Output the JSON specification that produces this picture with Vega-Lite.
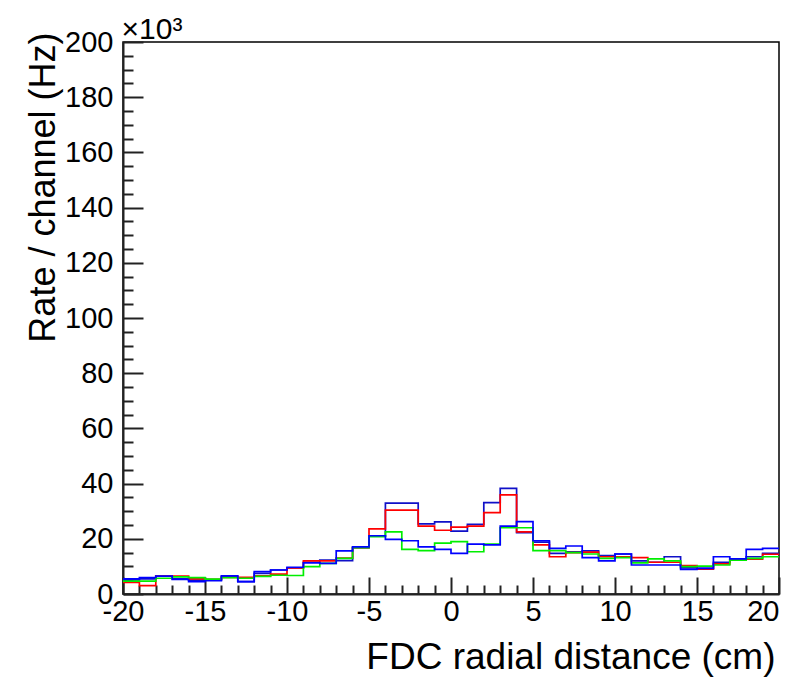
{
  "$schema": "https://vega.github.io/schema/vega-lite/v6.json",
  "width": 656,
  "height": 552,
  "autosize": {"type": "none"},
  "padding": {"left": 123, "top": 42, "right": 16, "bottom": 84},
  "background": "white",
  "config": {"view": {"stroke": "black", "strokeWidth": 1.5}, "font": "Liberation Sans"},
  "data": {"values": [
    {"x": -20, "D": 5.1, "R": 4.2, "G": 4.7, "B": 5.5},
    {"x": -19, "D": 5.5, "R": 3.0, "G": 4.7, "B": 5.9},
    {"x": -18, "D": 6.5, "R": 6.5, "G": 5.7, "B": 6.5},
    {"x": -17, "D": 5.5, "R": 6.5, "G": 6.2, "B": 5.3},
    {"x": -16, "D": 5.0, "R": 5.5, "G": 5.9, "B": 4.5},
    {"x": -15, "D": 5.1, "R": 5.3, "G": 5.4, "B": 4.8},
    {"x": -14, "D": 6.3, "R": 6.0, "G": 5.9, "B": 6.6},
    {"x": -13, "D": 4.5, "R": 6.0, "G": 5.7, "B": 4.5},
    {"x": -12, "D": 7.5, "R": 6.6, "G": 6.4, "B": 8.1},
    {"x": -11, "D": 8.7, "R": 7.2, "G": 6.8, "B": 8.7},
    {"x": -10, "D": 9.5, "R": 9.5, "G": 6.7, "B": 9.7},
    {"x": -9, "D": 11.5, "R": 12.0, "G": 9.9, "B": 11.3},
    {"x": -8, "D": 12.3, "R": 12.0, "G": 11.1, "B": 11.1},
    {"x": -7, "D": 12.1, "R": 13.0, "G": 12.9, "B": 15.6},
    {"x": -6, "D": 16.8, "R": 16.8, "G": 16.8, "B": 17.1},
    {"x": -5, "D": 21.0, "R": 23.6, "G": 20.8, "B": 21.1},
    {"x": -4, "D": 32.9, "R": 30.4, "G": 22.5, "B": 19.8},
    {"x": -3, "D": 32.9, "R": 30.4, "G": 16.2, "B": 19.3},
    {"x": -2, "D": 25.4, "R": 24.6, "G": 15.7, "B": 17.1},
    {"x": -1, "D": 26.1, "R": 23.1, "G": 18.4, "B": 16.2},
    {"x": 0, "D": 22.8, "R": 24.2, "G": 19.0, "B": 14.7},
    {"x": 1, "D": 25.2, "R": 24.6, "G": 15.3, "B": 18.1},
    {"x": 2, "D": 33.1, "R": 29.5, "G": 18.1, "B": 17.8},
    {"x": 3, "D": 38.3, "R": 35.9, "G": 24.0, "B": 24.6},
    {"x": 4, "D": 22.2, "R": 22.5, "G": 24.0, "B": 26.2},
    {"x": 5, "D": 18.8, "R": 17.8, "G": 15.7, "B": 19.3},
    {"x": 6, "D": 14.7, "R": 13.5, "G": 15.7, "B": 16.5},
    {"x": 7, "D": 15.3, "R": 15.0, "G": 15.0, "B": 17.4},
    {"x": 8, "D": 15.6, "R": 15.2, "G": 14.5, "B": 13.2},
    {"x": 9, "D": 13.9, "R": 13.5, "G": 12.9, "B": 12.0},
    {"x": 10, "D": 14.5, "R": 13.5, "G": 13.2, "B": 14.5},
    {"x": 11, "D": 12.0, "R": 13.2, "G": 11.3, "B": 10.5},
    {"x": 12, "D": 11.5, "R": 11.5, "G": 12.7, "B": 10.5},
    {"x": 13, "D": 13.5, "R": 11.5, "G": 12.0, "B": 10.5},
    {"x": 14, "D": 9.5, "R": 10.3, "G": 9.9, "B": 8.9},
    {"x": 15, "D": 9.3, "R": 9.0, "G": 10.1, "B": 9.3},
    {"x": 16, "D": 11.5, "R": 10.9, "G": 10.5, "B": 13.5},
    {"x": 17, "D": 12.7, "R": 12.5, "G": 12.3, "B": 12.7},
    {"x": 18, "D": 13.5, "R": 12.6, "G": 12.9, "B": 16.2},
    {"x": 19, "D": 14.7, "R": 14.4, "G": 13.5, "B": 16.5},
    {"x": 20, "D": 14.7, "R": 14.4, "G": 13.5, "B": 16.5}
  ]},
  "transform": [{"fold": ["D", "R", "G", "B"], "as": ["series", "rate"]}],
  "layer": [
    {
      "mark": {"type": "line", "interpolate": "step-after", "strokeWidth": 1.7, "clip": true},
      "encoding": {
        "x": {"field": "x", "type": "quantitative",
          "scale": {"domain": [-20, 20], "nice": false, "zero": false},
          "axis": {"orient": "bottom", "values": [-20, -15, -10, -5, 0, 5, 10, 15, 20],
            "labelExpr": "datum.value + ''",
            "ticks": false, "grid": false, "labelFlush": false,
            "labelAlign": {"condition": {"test": "datum.value == 20", "value": "right"}, "value": "center"},
            "labelFontSize": 29, "labelColor": "black", "labelPadding": 3,
            "domain": true, "domainColor": "#222", "domainWidth": 2,
            "title": "FDC radial distance (cm)", "titleFontSize": 37, "titleFontWeight": "normal",
            "titleColor": "black", "titleAlign": "right", "titleBaseline": "middle",
            "titleX": 652, "titleY": 63}},
        "y": {"field": "rate", "type": "quantitative",
          "scale": {"domain": [0, 200], "nice": false},
          "axis": {"orient": "left", "values": [0, 20, 40, 60, 80, 100, 120, 140, 160, 180, 200],
            "labelExpr": "datum.value + ''",
            "ticks": false, "grid": false, "labelFontSize": 29, "labelColor": "black", "labelPadding": 10,
            "domain": true, "domainColor": "#222", "domainWidth": 2,
            "title": "Rate / channel (Hz)", "titleFontSize": 36, "titleFontWeight": "normal",
            "titleColor": "black", "titleAngle": -90, "titleAlign": "right", "titleBaseline": "middle",
            "titleX": -80, "titleY": -10}},
        "color": {"field": "series", "type": "nominal",
          "scale": {"domain": ["D", "R", "G", "B"], "range": ["#1010c8", "#ff0000", "#00ee00", "#0000ff"]},
          "legend": null}
      }
    },
    {
      "mark": {"type": "point", "opacity": 0},
      "encoding": {
        "x": {"field": "x", "type": "quantitative",
          "axis": {"orient": "bottom", "values": [-20, -15, -10, -5, 0, 5, 10, 15, 20],
            "ticks": true, "tickSize": -17, "tickColor": "#222", "tickWidth": 2,
            "labels": false, "domain": false, "grid": false, "title": null}},
        "y": {"field": "rate", "type": "quantitative",
          "axis": {"orient": "left", "values": [0, 20, 40, 60, 80, 100, 120, 140, 160, 180, 200],
            "ticks": true, "tickSize": -20, "tickColor": "#222", "tickWidth": 2,
            "labels": false, "domain": false, "grid": false, "title": null}}
      }
    },
    {
      "mark": {"type": "point", "opacity": 0},
      "encoding": {
        "x": {"field": "x", "type": "quantitative",
          "axis": {"orient": "bottom", "values": [-19, -18, -17, -16, -14, -13, -12, -11, -9, -8, -7, -6, -4, -3, -2, -1, 1, 2, 3, 4, 6, 7, 8, 9, 11, 12, 13, 14, 16, 17, 18, 19],
            "ticks": true, "tickSize": -9, "tickColor": "#222", "tickWidth": 2,
            "labels": false, "domain": false, "grid": false, "title": null}},
        "y": {"field": "rate", "type": "quantitative",
          "axis": {"orient": "left", "values": [5, 10, 15, 25, 30, 35, 45, 50, 55, 65, 70, 75, 85, 90, 95, 105, 110, 115, 125, 130, 135, 145, 150, 155, 165, 170, 175, 185, 190, 195],
            "ticks": true, "tickSize": -10, "tickColor": "#222", "tickWidth": 2,
            "labels": false, "domain": false, "grid": false,
            "title": "×10³", "titleFontSize": 30, "titleFontWeight": "normal", "titleColor": "black",
            "titleAngle": 0, "titleAlign": "left", "titleBaseline": "alphabetic",
            "titleX": -2, "titleY": -4}}
      }
    }
  ],
  "resolve": {"axis": {"x": "independent", "y": "independent"}}
}
